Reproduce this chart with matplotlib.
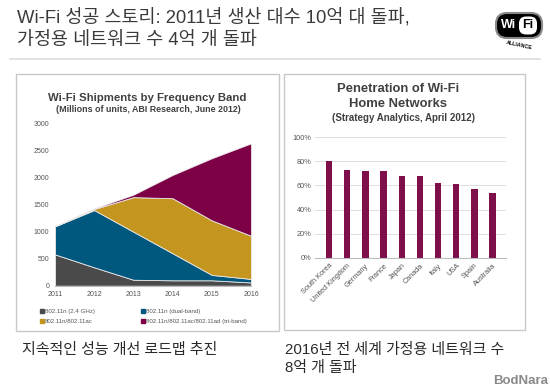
import matplotlib
matplotlib.use("Agg")
import matplotlib.pyplot as plt
from matplotlib.patches import Rectangle, FancyBboxPatch
from matplotlib.lines import Line2D

plt.rcParams['font.family'] = ['Liberation Sans', 'Noto Sans CJK KR', 'DejaVu Sans']

# data: Wi-Fi shipments (millions of units)
years = [2011, 2012, 2013, 2014, 2015, 2016]
n_24 = [580, 340, 110, 100, 100, 60]
n_dual = [520, 1060, 890, 500, 100, 65]
n_ac = [0, 20, 640, 1020, 1010, 800]
n_tri = [0, 10, 45, 430, 1150, 1710]
band_labels = ["802.11n (2.4 GHz)", "802.11n (dual-band)",
               "802.11n/802.11ac", "802.11n/802.11ac/802.11ad (tri-band)"]
band_colors = ["#4a4a4a", "#00587f", "#c4951f", "#7d0047"]

# data: home network penetration
countries = ["South Korea", "United Kingdom", "Germany", "France", "Japan",
             "Canada", "Italy", "USA", "Spain", "Australia"]
penetration = [80, 73, 71.5, 71.5, 68, 67.5, 62, 61, 57, 54]

W, H = 550, 390
fig = plt.figure(figsize=(W / 100, H / 100), dpi=100)

# background / layout layer in pixel coordinates
bg = fig.add_axes([0, 0, 1, 1])
bg.set_xlim(0, W)
bg.set_ylim(H, 0)
bg.axis('off')

bg.text(17, 17, "Wi-Fi 성공 스토리: 2011년 생산 대수 10억 대 돌파,", fontsize=13.3,
        color="#3a3a3a", va='center')
bg.text(17, 40, "가정용 네트워크 수 4억 개 돌파", fontsize=13.3, color="#3a3a3a", va='center')
bg.plot([10, 540], [59, 59], color="#dcdcdc", lw=1.2)

# wifi logo (rough)
bg.add_patch(FancyBboxPatch((496, 13), 46, 25, boxstyle="round,pad=0,rounding_size=11",
                            fc="black", ec="#888888", lw=1.5))
bg.add_patch(FancyBboxPatch((519, 16.5), 18, 18, boxstyle="round,pad=0,rounding_size=7",
                            fc="white", ec="none"))
bg.text(509, 25.5, "Wi", color="white", fontsize=9, fontweight='bold', ha='center', va='center')
bg.text(528, 25.5, "Fi", color="black", fontsize=9, fontweight='bold', ha='center', va='center')
bg.text(519, 45, "ALLIANCE", fontsize=3.8, fontweight='bold', ha='center', va='center',
        rotation=-12, color="black")

# panels
bg.add_patch(Rectangle((16, 74), 263, 257, fill=False, ec="#c8c8c8", lw=1))
bg.add_patch(Rectangle((284, 74), 241, 256, fill=False, ec="#c8c8c8", lw=1))

bg.text(147, 98, "Wi-Fi Shipments by Frequency Band", fontsize=8.2, fontweight='bold',
        color="#404040", ha='center', va='center')
bg.text(148, 109, "(Millions of units, ABI Research, June 2012)", fontsize=6.4,
        fontweight='bold', color="#404040", ha='center', va='center')

bg.text(398, 89, "Penetration of Wi-Fi", fontsize=9.4, fontweight='bold',
        color="#404040", ha='center', va='center')
bg.text(398, 104, "Home Networks", fontsize=9.4, fontweight='bold',
        color="#404040", ha='center', va='center')
bg.text(403, 118, "(Strategy Analytics, April 2012)", fontsize=7, fontweight='bold',
        color="#404040", ha='center', va='center')

bg.text(22, 350, "지속적인 성능 개선 로드맵 추진", fontsize=10.8, color="#2a2a2a", va='center')
bg.text(285, 350, "2016년 전 세계 가정용 네트워크 수", fontsize=10.8, color="#2a2a2a", va='center')
bg.text(285, 368, "8억 개 돌파", fontsize=10.8, color="#2a2a2a", va='center')
bg.text(548, 381, "BodNara", fontsize=9.5, fontweight='bold', color="#8a8a8a",
        ha='right', va='center')

# left chart: stacked area
ax1 = fig.add_axes([55 / W, (H - 285.7) / H, 196 / W, 162 / H])
ax1.stackplot(years, n_24, n_dual, n_ac, n_tri, colors=band_colors,
              edgecolor="#e8e8e8", linewidth=0.6)
ax1.set_xlim(2011, 2016)
ax1.set_ylim(0, 3000)
ax1.set_yticks(range(0, 3001, 500))
ax1.set_xticks(years)
ax1.tick_params(length=0, labelsize=5, labelcolor="#555555", pad=4)
for s in ["top", "right", "left"]:
    ax1.spines[s].set_visible(False)
ax1.spines["bottom"].set_color("#bbbbbb")

handles = [Line2D([], [], marker='s', ls='none', ms=2.5, color=c) for c in band_colors]
order = [0, 2, 1, 3]
fig.legend([handles[i] for i in order], [band_labels[i] for i in order],
           ncol=2, fontsize=4.4, frameon=False, loc='upper left',
           bbox_to_anchor=(34 / W, 1 - 303 / H), handletextpad=0.1,
           columnspacing=7.5, labelspacing=0.8, handlelength=0.8,
           labelcolor="#555555")

# right chart: bars
ax2 = fig.add_axes([315.3 / W, (H - 258) / H, 191 / W, 121 / H])
ax2.bar(range(len(countries)), penetration, width=0.35, color="#7f0f4b")
ax2.set_xlim(-0.75, len(countries) - 0.25)
ax2.set_ylim(0, 100)
ax2.set_yticks(range(0, 101, 20))
ax2.set_yticklabels([f"{v}%" for v in range(0, 101, 20)])
ax2.set_xticks(range(len(countries)))
ax2.set_xticklabels(countries, rotation=45, ha='right', rotation_mode='anchor')
ax2.tick_params(length=0, labelsize=5.3, labelcolor="#555555", pad=3)
ax2.yaxis.grid(True, color="#d9d9d9", lw=0.6)
ax2.set_axisbelow(True)
for s in ["top", "right", "left"]:
    ax2.spines[s].set_visible(False)
ax2.spines["bottom"].set_color("#bbbbbb")

fig.savefig("out.png", dpi=100)
